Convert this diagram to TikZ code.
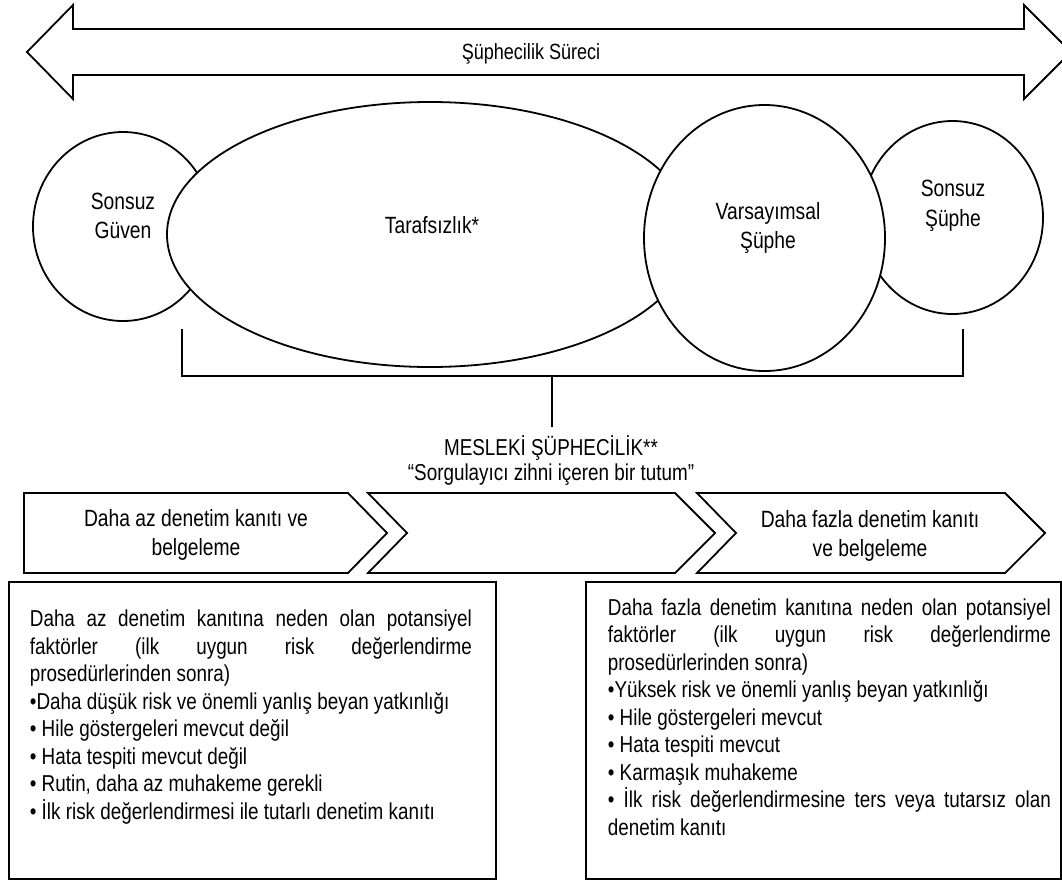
\documentclass[tikz,border=0pt]{standalone}
\usepackage{fontspec}
\setmainfont{Liberation Sans}[FakeStretch=0.82]
\usetikzlibrary{shapes.geometric}

\begin{document}
\begin{tikzpicture}[x=1pt, y=-1pt, line width=1.8pt, line join=miter,
  blob/.style={draw, ellipse, inner sep=0pt, fill=white},
  lbl/.style={align=center, inner sep=0pt, font=\fontsize{23.5}{29.5}\selectfont},
  chevtext/.style={align=center, inner sep=0pt, font=\fontsize{23.5}{29}\selectfont},
  panel/.style={draw, rectangle, inner sep=0pt, anchor=north west},
  paneltext/.style={anchor=west, inner sep=0pt, align=justify,
    font=\fontsize{23}{27.5}\selectfont}]
\useasboundingbox (0,0) rectangle (1062,879);

% process arrow across the top
\draw (27,52) -- (73,5) -- (73,29) -- (1024,29) -- (1024,5) -- (1071,52)
      -- (1024,99) -- (1024,75) -- (73,75) -- (73,99) -- cycle;
\node[lbl, font=\fontsize{22}{26}\selectfont] (process) at (531,54) {Şüphecilik Süreci};

% attitude spectrum
\node[blob, minimum width=180pt, minimum height=189pt] (trust) at (123,226.5) {};
\node[blob, minimum width=181pt, minimum height=193pt] (doubt) at (952.5,217.5) {};
\node[blob, minimum width=526pt, minimum height=265pt] (neutral) at (430,234.5) {};
\node[blob, minimum width=241pt, minimum height=266pt] (presume) at (764.5,238) {};

\node[lbl] (trustlbl) at (123,216) {Sonsuz\\Güven};
\node[lbl] (neutrallbl) at (432,225) {Tarafsızlık*};
\node[lbl] (presumelbl) at (768,228) {Varsayımsal\\Şüphe};
\node[lbl] (doubtlbl) at (953,206) {Sonsuz\\Şüphe};

% bracket gathering the middle range
\coordinate (brL) at (182,329);
\coordinate (brR) at (963,329);
\coordinate (stemtop) at (552,376);
\coordinate (stembot) at (552,427);
\draw (brL) -- ++(0,47) -| (brR);
\draw (stemtop) -- (stembot);

\node[lbl, font=\fontsize{23}{25}\selectfont] (prof) at (551,460)
  {MESLEKİ ŞÜPHECİLİK**\\“Sorgulayıcı zihni içeren bir tutum”};

% chevrons
\draw (24,493) -- (348,493) -- (387,533) -- (348,573) -- (24,573) -- cycle;
\draw (368,493) -- (675,493) -- (715,533) -- (675,573) -- (368,573) -- (407,533) -- cycle;
\draw (697,493) -- (1005,493) -- (1045,533) -- (1005,573) -- (697,573) -- (736,533) -- cycle;
\node[chevtext] (lessev) at (196,534.5) {Daha az denetim kanıtı ve\\belgeleme};
\node[chevtext] (moreev) at (870,536) {Daha fazla denetim kanıtı\\ve belgeleme};

% factor panels
\node[panel, minimum width=487pt, minimum height=297pt] (lesspanel) at (8,581) {};
\node[panel, minimum width=475pt, minimum height=297pt] (morepanel) at (585,581) {};

\node[paneltext, text width=442pt] (lesstext) at (29,717) {Daha az denetim kanıtına neden olan potansiyel\linebreak
faktörler (ilk uygun risk değerlendirme\linebreak
prosedürlerinden sonra)\\
•Daha düşük risk ve önemli yanlış beyan yatkınlığı\\
• Hile göstergeleri mevcut değil\\
• Hata tespiti mevcut değil\\
• Rutin, daha az muhakeme gerekli\\
• İlk risk değerlendirmesi ile tutarlı denetim kanıtı};

\node[paneltext, text width=443pt] (moretext) at (607,717) {Daha fazla denetim kanıtına neden olan potansiyel\linebreak
faktörler (ilk uygun risk değerlendirme\linebreak
prosedürlerinden sonra)\\
•Yüksek risk ve önemli yanlış beyan yatkınlığı\\
• Hile göstergeleri mevcut\\
• Hata tespiti mevcut\\
• Karmaşık muhakeme\\
• İlk risk değerlendirmesine ters veya tutarsız olan\linebreak
denetim kanıtı};
\end{tikzpicture}
\end{document}
